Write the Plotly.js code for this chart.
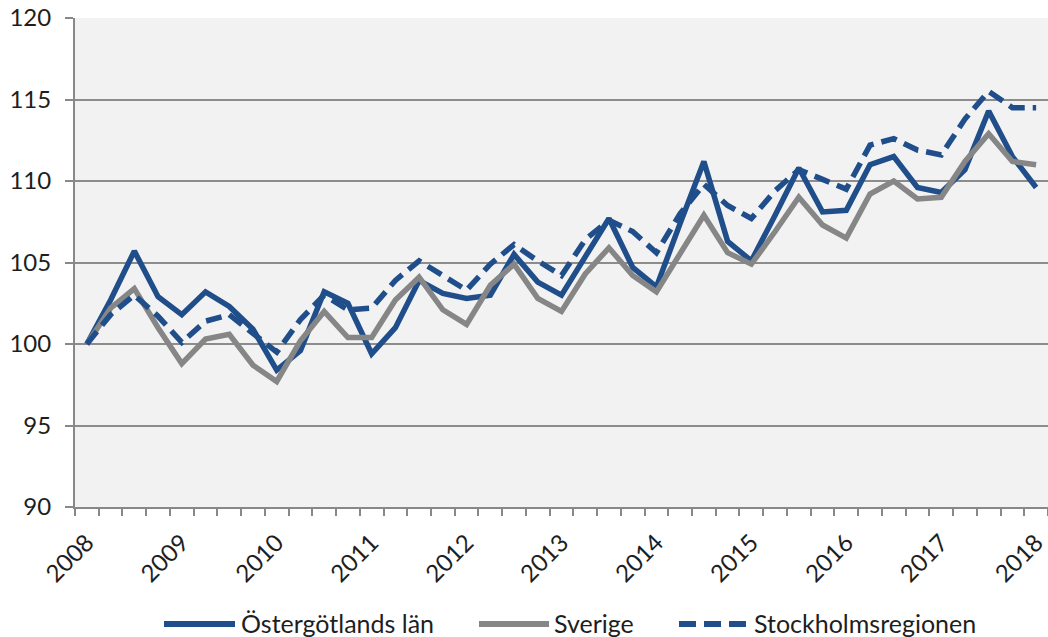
<!DOCTYPE html>
<html>
<head>
<meta charset="utf-8">
<script src="https://cdn.plot.ly/plotly-3.0.1.min.js"></script>
<style>html,body{margin:0;padding:0;background:#fff;}#chart{width:1048px;height:637px;}</style>
</head>
<body>
<div id="chart"></div>
<script>
// Quarterly index, 2008 Q1 = 100
const yearLabels = ['2008','2009','2010','2011','2012','2013','2014','2015','2016','2017','2018'];
const seriesNames = ['Östergötlands län', 'Sverige', 'Stockholmsregionen'];
const ostergotland = [100.0,102.7,105.7,102.9,101.8,103.2,102.3,100.9,98.4,99.6,
  103.2,102.5,99.4,101.0,103.9,103.1,102.8,103.0,105.5,103.8,
  103.0,105.4,107.7,104.7,103.5,107.4,111.2,106.3,105.1,107.9,
  110.8,108.1,108.2,111.0,111.5,109.6,109.3,110.7,114.3,111.5,109.6];
const sverige = [100.0,102.2,103.4,101.0,98.8,100.3,100.6,98.7,97.7,100.2,
  102.0,100.4,100.4,102.7,104.1,102.1,101.2,103.6,104.9,102.8,
  102.0,104.3,105.9,104.2,103.2,105.6,107.9,105.6,104.9,106.9,
  109.0,107.3,106.5,109.2,110.0,108.9,109.0,111.2,112.9,111.2,111.0];
const stockholm = [100.0,101.8,103.0,101.7,100.1,101.4,101.8,100.6,99.5,101.5,
  103.0,102.1,102.2,103.9,105.1,104.2,103.3,104.9,106.1,105.1,
  104.2,106.4,107.6,106.9,105.6,108.0,109.8,108.5,107.7,109.4,
  110.7,110.1,109.5,112.2,112.6,111.9,111.6,113.8,115.5,114.5,114.5];

const idx = ostergotland.map((_, i) => i);
const tickIdx = yearLabels.map((_, k) => k * 4);
const blue = '#1f4e8a', gray = '#868686';
const font = 'Lato, Open Sans, sans-serif';
const textColor = '#1e1e1e';

const styles = [
  {color: blue, width: 5.5, dash: 'solid'},
  {color: gray, width: 5.5, dash: 'solid'},
  {color: blue, width: 5.5, dash: '16px,8px'}
];
const values = [ostergotland, sverige, stockholm];

const traces = values.map((v, k) => ({
  x: idx, y: v, name: seriesNames[k], type: 'scatter', mode: 'lines',
  line: styles[k], showlegend: false
}));

// custom legend (pixel layout -> paper coords)
const M = {l: 75, r: 0, t: 18, b: 130}, W = 1048, H = 637;
const pw = W - M.l - M.r, ph = H - M.t - M.b;
const px = x => (x - M.l) / pw, py = y => (H - M.b - y) / ph;
const legendItems = [
  {x0: 164, x1: 235, tx: 239},
  {x0: 479, x1: 549, tx: 552},
  {x0: 679, x1: 746, tx: 752}
];
const legY = 624;
const shapes = legendItems.map((it, k) => ({
  type: 'line', xref: 'paper', yref: 'paper',
  x0: px(it.x0), x1: px(it.x1), y0: py(legY), y1: py(legY),
  line: {color: styles[k].color, width: 6, dash: k === 2 ? '17px,8px' : 'solid'}
}));
const annotations = legendItems.map((it, k) => ({
  xref: 'paper', yref: 'paper', x: px(it.tx), y: py(legY - 1), xanchor: 'left', yanchor: 'middle',
  text: seriesNames[k], showarrow: false, font: {family: font, size: 25, color: textColor}
}));

const layout = {
  width: W, height: H,
  margin: M,
  paper_bgcolor: '#ffffff',
  plot_bgcolor: '#f2f2f2',
  font: {family: font, size: 24, color: textColor},
  showlegend: false,
  shapes: shapes,
  annotations: annotations,
  xaxis: {
    range: [-0.5, 40.5], tickmode: 'array', tickvals: tickIdx, ticktext: yearLabels,
    tickangle: -45, ticks: '', showgrid: false, zeroline: false, ticklabeloverflow: 'allow',
    showline: true, linecolor: '#888', linewidth: 2, ticklabelstandoff: 10,
    minor: {tickmode: 'linear', tick0: -0.5, dtick: 1, ticks: 'outside', ticklen: 7,
            tickcolor: '#888', tickwidth: 2, showgrid: false},
    tickfont: {family: font, size: 24, color: textColor}, fixedrange: true
  },
  yaxis: {
    range: [90, 120], dtick: 5, tick0: 90, showgrid: true, gridcolor: '#8c8c8c', gridwidth: 2,
    zeroline: false, showline: true, linecolor: '#888', linewidth: 2,
    ticks: 'outside', ticklen: 8, tickcolor: '#888', tickwidth: 2, ticklabelstandoff: 9,
    tickfont: {family: font, size: 24, color: textColor}, fixedrange: true
  }
};

Plotly.newPlot('chart', traces, layout, {displayModeBar: false, staticPlot: true});
</script>
</body>
</html>
